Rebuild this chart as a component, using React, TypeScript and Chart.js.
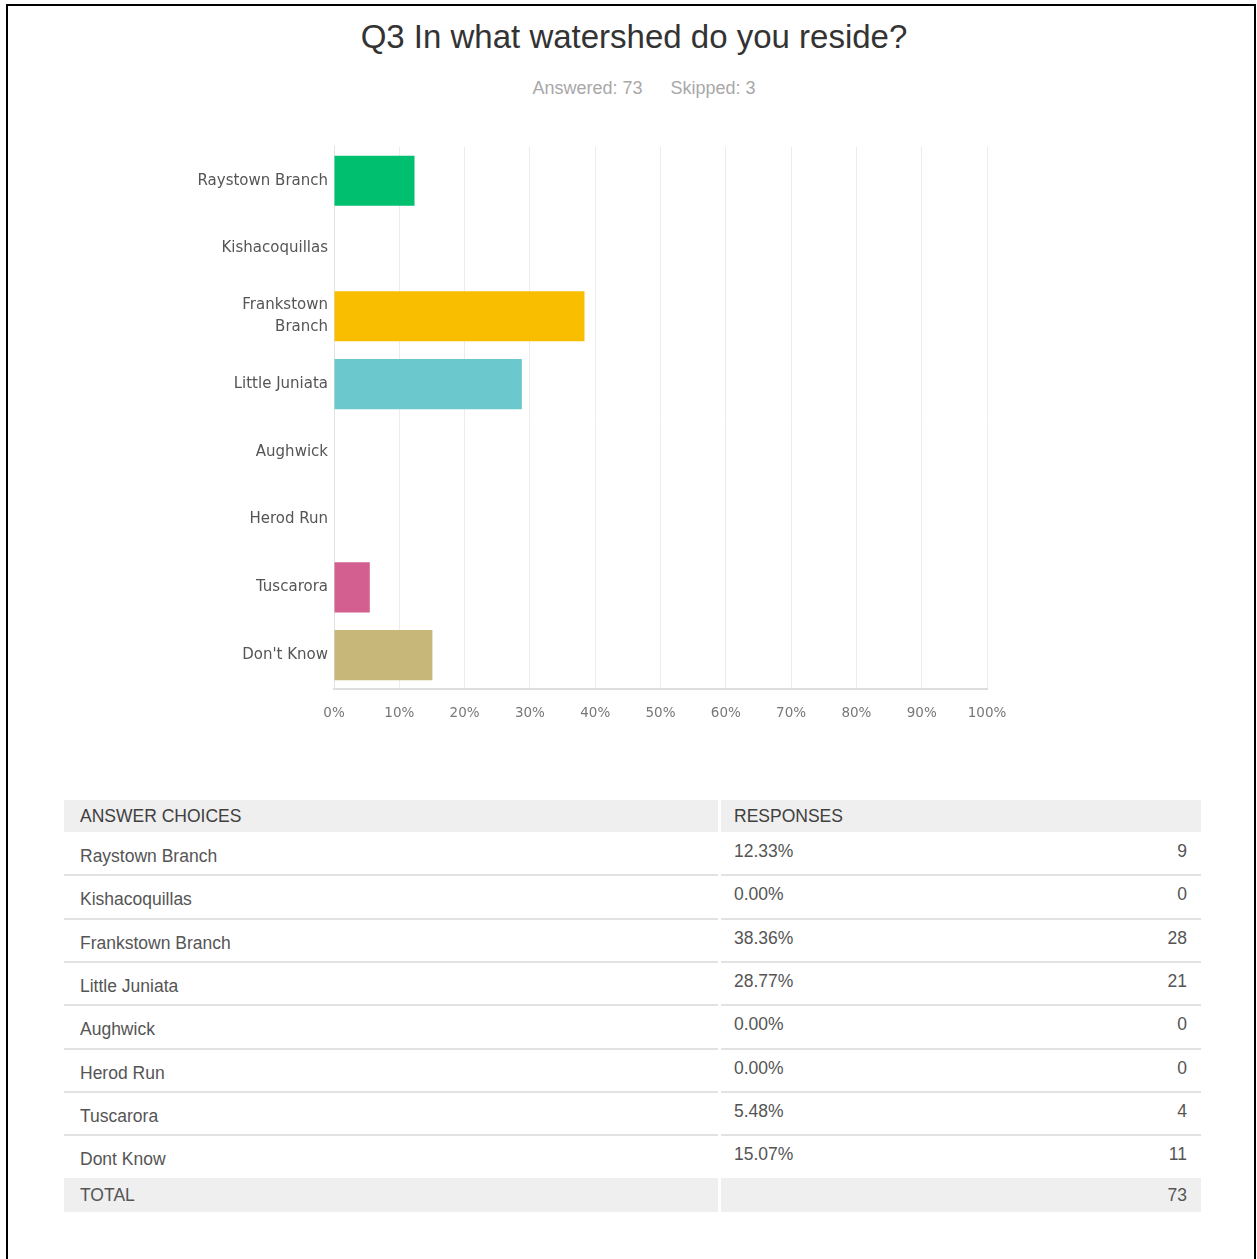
import React, { useEffect, useRef } from "react";
import { Chart, registerables } from "chart.js";

Chart.register(...registerables);

const categories = [
  "Raystown Branch",
  "Kishacoquillas",
  "Frankstown Branch",
  "Little Juniata",
  "Aughwick",
  "Herod Run",
  "Tuscarora",
  "Don't Know",
];
const tableChoices = [
  "Raystown Branch",
  "Kishacoquillas",
  "Frankstown Branch",
  "Little Juniata",
  "Aughwick",
  "Herod Run",
  "Tuscarora",
  "Dont Know",
];
const percents = [12.33, 0, 38.36, 28.77, 0, 0, 5.48, 15.07];
const counts = [9, 0, 28, 21, 0, 0, 4, 11];
const barColors = ["#00BF6F", "#507CB6", "#F9BE00", "#6BC8CD", "#FF8B4F", "#7D5E90", "#D25F90", "#C7B879"];
const xTicks = [0, 10, 20, 30, 40, 50, 60, 70, 80, 90, 100];
const title = "Q3 In what watershed do you reside?";
const answered = 73;
const skipped = 3;
const total = 73;

const FONT = "'Liberation Sans', Arial, Helvetica, sans-serif";

function BarChart() {
  const ref = useRef<HTMLCanvasElement | null>(null);
  useEffect(() => {
    if (!ref.current) return;
    const labels = categories.map((c) => (c === "Frankstown Branch" ? ["Frankstown", "Branch"] : c));
    const chart = new Chart(ref.current, {
      type: "bar",
      data: {
        labels,
        datasets: [
          {
            data: percents,
            backgroundColor: barColors,
            borderWidth: 0,
            barPercentage: 0.74,
            categoryPercentage: 1,
          },
        ],
      },
      options: {
        indexAxis: "y",
        animation: false,
        responsive: false,
        devicePixelRatio: 1,
        layout: { padding: { top: 15, right: 43, left: 0, bottom: 0 } },
        plugins: { legend: { display: false }, tooltip: { enabled: false } },
        scales: {
          x: {
            min: 0,
            max: 100,
            afterBuildTicks: (scale: any) => {
              scale.ticks = xTicks.map((v) => ({ value: v }));
            },
            afterFit: (scale: any) => {
              scale.height = 61;
            },
            grid: { color: "#ececec", lineWidth: 1, drawTicks: false },
            border: { display: true, color: "#dddddd", width: 2 },
            ticks: {
              padding: 16,
              color: "#777777",
              font: { family: "'DejaVu Sans', sans-serif", size: 13.5 },
              callback: (v: any) => v + "%",
              maxRotation: 0,
              autoSkip: false,
            },
          },
          y: {
            afterFit: (scale: any) => {
              scale.width = 184;
            },
            grid: { display: false, drawTicks: false },
            border: { display: true, color: "#e2e2e2", width: 1 },
            ticks: {
              padding: 6,
              color: "#555555",
              font: { family: "'DejaVu Sans', sans-serif", size: 15, lineHeight: 1.45 },
              autoSkip: false,
            },
          },
        },
      },
    });
    return () => chart.destroy();
  }, []);
  return (
    <canvas
      ref={ref}
      width={880}
      height={620}
      style={{ position: "absolute", left: 150, top: 130, width: 880, height: 620 }}
    />
  );
}

export default function App() {
  const rowTop = 832;
  const rowH = 43.3;
  const textBase: React.CSSProperties = {
    position: "absolute",
    fontFamily: FONT,
    fontSize: 17.5,
    lineHeight: "20px",
    whiteSpace: "nowrap",
  };
  return (
    <div
      style={{
        position: "absolute",
        left: 0,
        top: 0,
        width: 1257,
        height: 1259,
        overflow: "hidden",
        background: "#ffffff",
      }}
    >
      <div
        style={{
          position: "absolute",
          left: 6,
          top: 4,
          width: 1250,
          height: 1255,
          borderTop: "2px solid #000",
          borderLeft: "2px solid #000",
          borderRight: "2px solid #000",
          boxSizing: "border-box",
        }}
      />
      <div
        style={{
          position: "absolute",
          left: 0,
          width: 1268,
          top: 17,
          textAlign: "center",
          fontFamily: FONT,
          fontSize: 33,
          lineHeight: "40px",
          color: "#333333",
          whiteSpace: "nowrap",
        }}
      >
        {title}
      </div>
      <div
        style={{
          position: "absolute",
          left: 0,
          width: 1288,
          top: 78,
          textAlign: "center",
          fontFamily: FONT,
          fontSize: 18,
          lineHeight: "20px",
          color: "#a8a8a8",
          whiteSpace: "nowrap",
        }}
      >
        <span>Answered: {answered}</span>
        <span style={{ marginLeft: 28 }}>Skipped: {skipped}</span>
      </div>

      <BarChart />

      {/* table header */}
      <div style={{ position: "absolute", left: 64, top: 800, width: 654, height: 32, background: "#efefef" }} />
      <div style={{ position: "absolute", left: 721, top: 800, width: 480, height: 32, background: "#efefef" }} />
      <div style={{ ...textBase, left: 80, top: 806, color: "#404040" }}>ANSWER CHOICES</div>
      <div style={{ ...textBase, left: 734, top: 806, color: "#404040" }}>RESPONSES</div>

      {tableChoices.map((c, i) => {
        const top = rowTop + i * rowH;
        return (
          <React.Fragment key={c}>
            <div style={{ ...textBase, left: 80, top: top + 14, color: "#555555" }}>{c}</div>
            <div style={{ ...textBase, left: 734, top: top + 9, color: "#555555" }}>
              {percents[i].toFixed(2)}%
            </div>
            <div
              style={{
                ...textBase,
                left: 1000,
                width: 187,
                textAlign: "right",
                top: top + 9,
                color: "#555555",
              }}
            >
              {counts[i]}
            </div>
            {i < tableChoices.length - 1 && (
              <>
                <div
                  style={{
                    position: "absolute",
                    left: 64,
                    top: top + rowH - 1,
                    width: 654,
                    height: 2,
                    background: "#e2e2e2",
                  }}
                />
                <div
                  style={{
                    position: "absolute",
                    left: 721,
                    top: top + rowH - 1,
                    width: 480,
                    height: 2,
                    background: "#e2e2e2",
                  }}
                />
              </>
            )}
          </React.Fragment>
        );
      })}

      {/* total row */}
      <div style={{ position: "absolute", left: 64, top: 1178, width: 654, height: 34, background: "#efefef" }} />
      <div style={{ position: "absolute", left: 721, top: 1178, width: 480, height: 34, background: "#efefef" }} />
      <div style={{ ...textBase, left: 80, top: 1185, color: "#555555" }}>TOTAL</div>
      <div style={{ ...textBase, left: 1000, width: 187, textAlign: "right", top: 1185, color: "#555555" }}>
        {total}
      </div>
    </div>
  );
}
